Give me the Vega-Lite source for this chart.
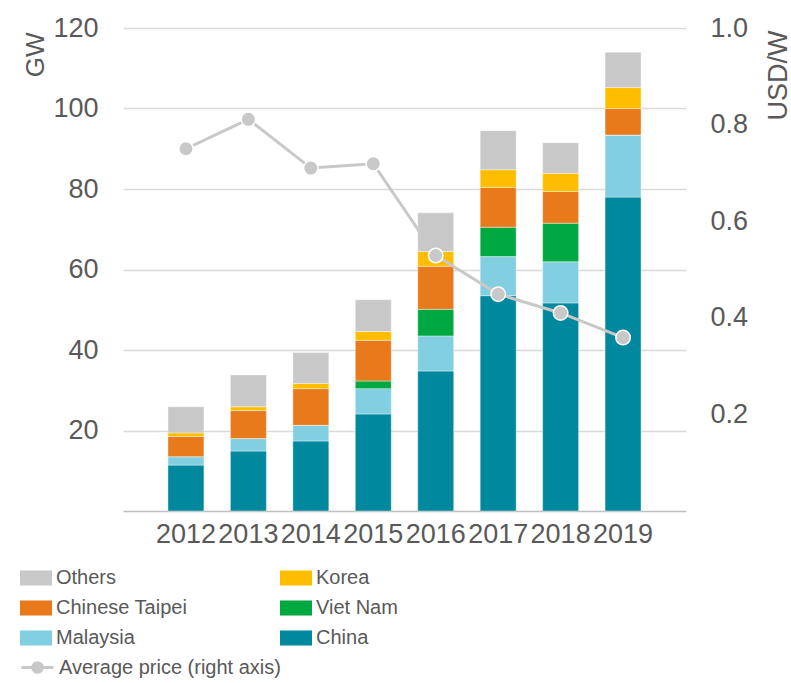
{
  "$schema": "https://vega.github.io/schema/vega-lite/v6.json",
  "width": 563,
  "height": 483,
  "autosize": "none",
  "padding": {"left": 123, "top": 28, "right": 105, "bottom": 172},
  "background": "white",
  "config": {
    "view": {"stroke": null},
    "font": "Liberation Sans",
    "axis": {"labelColor": "#595959", "titleColor": "#595959", "labelFontWeight": "normal", "titleFontWeight": "normal"}
  },
  "datasets": {
    "bars": [
      {"year": "2012", "country": "China", "gw": 11.4, "ord": 1},
      {"year": "2012", "country": "Malaysia", "gw": 2.1, "ord": 2},
      {"year": "2012", "country": "Viet Nam", "gw": 0, "ord": 3},
      {"year": "2012", "country": "Chinese Taipei", "gw": 5.0, "ord": 4},
      {"year": "2012", "country": "Korea", "gw": 0.9, "ord": 5},
      {"year": "2012", "country": "Others", "gw": 6.5, "ord": 6},
      {"year": "2013", "country": "China", "gw": 14.9, "ord": 1},
      {"year": "2013", "country": "Malaysia", "gw": 3.1, "ord": 2},
      {"year": "2013", "country": "Viet Nam", "gw": 0, "ord": 3},
      {"year": "2013", "country": "Chinese Taipei", "gw": 6.95, "ord": 4},
      {"year": "2013", "country": "Korea", "gw": 0.95, "ord": 5},
      {"year": "2013", "country": "Others", "gw": 7.9, "ord": 6},
      {"year": "2014", "country": "China", "gw": 17.4, "ord": 1},
      {"year": "2014", "country": "Malaysia", "gw": 3.9, "ord": 2},
      {"year": "2014", "country": "Viet Nam", "gw": 0, "ord": 3},
      {"year": "2014", "country": "Chinese Taipei", "gw": 9.1, "ord": 4},
      {"year": "2014", "country": "Korea", "gw": 1.3, "ord": 5},
      {"year": "2014", "country": "Others", "gw": 7.7, "ord": 6},
      {"year": "2015", "country": "China", "gw": 24.1, "ord": 1},
      {"year": "2015", "country": "Malaysia", "gw": 6.3, "ord": 2},
      {"year": "2015", "country": "Viet Nam", "gw": 1.9, "ord": 3},
      {"year": "2015", "country": "Chinese Taipei", "gw": 10.1, "ord": 4},
      {"year": "2015", "country": "Korea", "gw": 2.2, "ord": 5},
      {"year": "2015", "country": "Others", "gw": 7.9, "ord": 6},
      {"year": "2016", "country": "China", "gw": 34.8, "ord": 1},
      {"year": "2016", "country": "Malaysia", "gw": 8.7, "ord": 2},
      {"year": "2016", "country": "Viet Nam", "gw": 6.6, "ord": 3},
      {"year": "2016", "country": "Chinese Taipei", "gw": 10.7, "ord": 4},
      {"year": "2016", "country": "Korea", "gw": 3.7, "ord": 5},
      {"year": "2016", "country": "Others", "gw": 9.6, "ord": 6},
      {"year": "2017", "country": "China", "gw": 53.5, "ord": 1},
      {"year": "2017", "country": "Malaysia", "gw": 9.7, "ord": 2},
      {"year": "2017", "country": "Viet Nam", "gw": 7.3, "ord": 3},
      {"year": "2017", "country": "Chinese Taipei", "gw": 9.9, "ord": 4},
      {"year": "2017", "country": "Korea", "gw": 4.4, "ord": 5},
      {"year": "2017", "country": "Others", "gw": 9.7, "ord": 6},
      {"year": "2018", "country": "China", "gw": 51.7, "ord": 1},
      {"year": "2018", "country": "Malaysia", "gw": 10.2, "ord": 2},
      {"year": "2018", "country": "Viet Nam", "gw": 9.6, "ord": 3},
      {"year": "2018", "country": "Chinese Taipei", "gw": 7.9, "ord": 4},
      {"year": "2018", "country": "Korea", "gw": 4.5, "ord": 5},
      {"year": "2018", "country": "Others", "gw": 7.6, "ord": 6},
      {"year": "2019", "country": "China", "gw": 78.0, "ord": 1},
      {"year": "2019", "country": "Malaysia", "gw": 15.4, "ord": 2},
      {"year": "2019", "country": "Viet Nam", "gw": 0, "ord": 3},
      {"year": "2019", "country": "Chinese Taipei", "gw": 6.6, "ord": 4},
      {"year": "2019", "country": "Korea", "gw": 5.2, "ord": 5},
      {"year": "2019", "country": "Others", "gw": 8.8, "ord": 6}
    ],
    "price": [
      {"year": "2012", "price": 0.750, "series": "Average price (right axis)"},
      {"year": "2013", "price": 0.811, "series": "Average price (right axis)"},
      {"year": "2014", "price": 0.710, "series": "Average price (right axis)"},
      {"year": "2015", "price": 0.719, "series": "Average price (right axis)"},
      {"year": "2016", "price": 0.529, "series": "Average price (right axis)"},
      {"year": "2017", "price": 0.449, "series": "Average price (right axis)"},
      {"year": "2018", "price": 0.410, "series": "Average price (right axis)"},
      {"year": "2019", "price": 0.359, "series": "Average price (right axis)"}
    ]
  },
  "layer": [
    {
      "data": {"name": "bars"},
      "mark": {"type": "bar", "stroke": "white", "strokeWidth": 0.4},
      "encoding": {
        "x": {
          "field": "year", "type": "nominal",
          "scale": {"paddingInner": 0.424, "paddingOuter": 0.72},
          "axis": {"title": null, "labelAngle": 0, "labelFontSize": 27, "labelPadding": 10, "labelOverlap": false, "labelFlush": false, "ticks": false, "domainColor": "#bfbfbf", "domainWidth": 1.5, "grid": false}
        },
        "y": {
          "field": "gw", "type": "quantitative", "stack": "zero",
          "scale": {"domain": [0, 120]},
          "axis": {"title": "GW", "values": [20, 40, 60, 80, 100, 120], "grid": true, "gridColor": "#d9d9d9", "gridWidth": 1.5, "domain": false, "ticks": false, "labelFontSize": 27, "labelPadding": 25, "titleFontSize": 26, "titleAngle": -90, "titleAlign": "right", "titleBaseline": "alphabetic", "titleX": -80, "titleY": 4}
        },
        "color": {
          "field": "country", "type": "nominal",
          "scale": {
            "domain": ["Others", "Chinese Taipei", "Malaysia", "Korea", "Viet Nam", "China"],
            "range": ["#c8c8c8", "#e97a1c", "#82cfe1", "#ffbd00", "#00a841", "#00889e"]
          },
          "legend": {
            "title": null, "orient": "none", "legendX": -103, "legendY": 534, "columns": 2, "columnPadding": 92, "rowPadding": 4,
            "symbolType": "M-1,-0.47H1V0.47H-1Z", "symbolSize": 1024, "symbolStrokeWidth": 0, "labelOffset": 4,
            "labelFont": "Liberation Sans", "labelFontSize": 20, "labelColor": "#595959", "labelLimit": 400
          }
        },
        "order": {"field": "ord", "type": "quantitative"}
      }
    },
    {
      "data": {"name": "price"},
      "layer": [
        {
          "mark": {"type": "line", "strokeWidth": 3},
          "encoding": {
            "x": {"field": "year", "type": "nominal", "axis": {"title": null, "labelAngle": 0, "labelFontSize": 27, "labelPadding": 10, "labelOverlap": false, "labelFlush": false, "ticks": false, "domainColor": "#bfbfbf", "domainWidth": 1.5, "grid": false}},
            "y": {
              "field": "price", "type": "quantitative", "scale": {"domain": [0, 1]},
              "axis": {"orient": "right", "title": "USD/W", "values": [0.2, 0.4, 0.6, 0.8, 1.0], "format": ".1f", "grid": false, "domain": false, "ticks": false, "labelFontSize": 27, "labelPadding": 24, "titleFontSize": 27, "titleAngle": -90, "titleAlign": "right", "titleBaseline": "alphabetic", "titleX": 100, "titleY": 2}
            },
            "stroke": {
              "field": "series", "type": "nominal",
              "scale": {"range": ["#c8c8c8"]},
              "legend": {
                "title": null, "orient": "none", "legendX": -103, "legendY": 622,
                "symbolType": "M-1,0H1M0.3,0A0.3,0.3,0,1,1,-0.3,0A0.3,0.3,0,1,1,0.3,0", "symbolSize": 1024, "symbolStrokeWidth": 3, "symbolFillColor": "#c8c8c8", "labelOffset": 4,
                "labelFont": "Liberation Sans", "labelFontSize": 20, "labelColor": "#595959", "labelLimit": 400
              }
            }
          }
        },
        {
          "mark": {"type": "point", "filled": true, "size": 210, "color": "#c8c8c8", "stroke": "white", "strokeWidth": 1.5, "opacity": 1},
          "encoding": {
            "x": {"field": "year", "type": "nominal"},
            "y": {"field": "price", "type": "quantitative"}
          }
        }
      ]
    }
  ],
  "resolve": {"scale": {"y": "independent"}}
}
